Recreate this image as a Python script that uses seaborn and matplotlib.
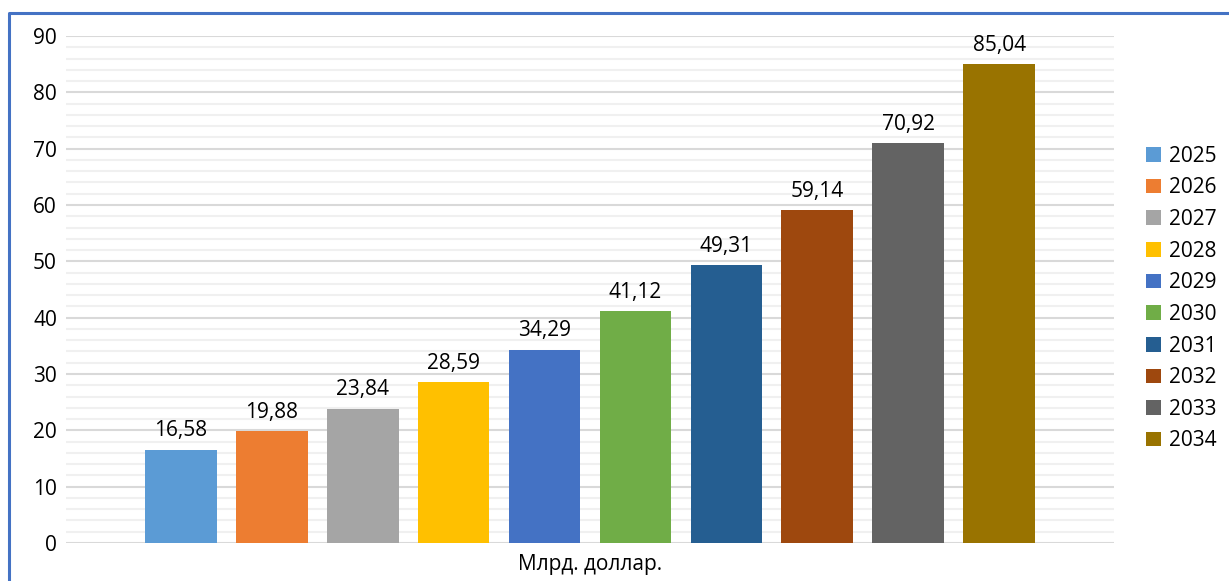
import numpy as np
import pandas as pd
import seaborn as sns
import matplotlib.pyplot as plt
from matplotlib.lines import Line2D
from matplotlib.ticker import MultipleLocator

years = ["2025", "2026", "2027", "2028", "2029", "2030", "2031", "2032", "2033", "2034"]
values = [16.58, 19.88, 23.84, 28.59, 34.29, 41.12, 49.31, 59.14, 70.92, 85.04]
category = "Млрд. доллар."
colors = ["#5B9BD5", "#ED7D31", "#A5A5A5", "#FFC000", "#4472C4",
          "#70AD47", "#255E91", "#9E480E", "#636363", "#997300"]

df = pd.DataFrame({"cat": [category] * len(years), "year": years, "value": values})

sns.set_theme(style="white")
plt.rcParams['font.family'] = ['Open Sans', 'DejaVu Sans']
plt.rcParams['text.color'] = 'black'

fig = plt.figure(figsize=(12.29, 5.81), dpi=100)
ax = fig.add_axes([66 / 1229, 1 - 543 / 581, (1114 - 66) / 1229, (543 - 36) / 581])

sns.barplot(data=df, x="cat", y="value", hue="year", palette=colors,
            width=0.868, gap=0.21, saturation=1, linewidth=0, ax=ax)

ax.set_ylim(0, 90)
ax.set_xlim(-0.5, 0.5)
ax.yaxis.set_major_locator(MultipleLocator(10))
ax.yaxis.set_minor_locator(MultipleLocator(2))
ax.grid(which="minor", axis="y", color="#f0f0f0", linewidth=1.5)
ax.grid(which="major", axis="y", color="#d9d9d9", linewidth=1.5)
ax.set_axisbelow(True)
for s in ax.spines.values():
    s.set_visible(False)
ax.tick_params(axis="both", which="both", length=0, labelsize=15, colors="black")
ax.tick_params(axis="y", pad=6.5)
ax.tick_params(axis="x", pad=8)
ax.set_xlabel("")
ax.set_ylabel("")

for cont, v in zip(ax.containers, values):
    ax.bar_label(cont, labels=[f"{v:.2f}".replace(".", ",")], padding=6,
                 fontsize=15, color="black")

sns.move_legend(ax, loc="center left", bbox_to_anchor=(1.013, 0.482), frameon=False,
                title=None, fontsize=15, handlelength=0.7, handleheight=0.7,
                labelspacing=0.51, handletextpad=0.4)

# blue frame around the chart
fig.add_artist(Line2D([9 / 1229, 9 / 1229, 1.0], [0.0, 1 - 13 / 581, 1 - 13 / 581],
                      color="#4472C4", linewidth=2.2, transform=fig.transFigure))

fig.savefig("out.png", dpi=100)
